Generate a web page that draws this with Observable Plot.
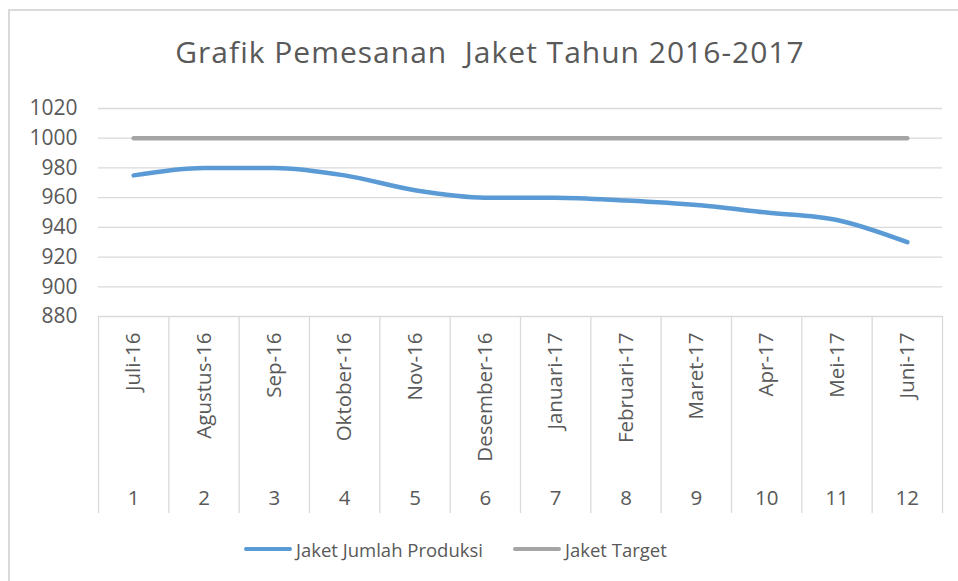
<!DOCTYPE html>
<html>
<head>
<meta charset="utf-8">
<script src="https://cdn.jsdelivr.net/npm/d3@7"></script>
<script src="https://cdn.jsdelivr.net/npm/@observablehq/plot@0.6"></script>
<style>
  html, body { margin: 0; padding: 0; background: #fff; }
  #wrap { position: relative; width: 958px; height: 581px; overflow: hidden; font-family: "Open Sans", sans-serif; color: #595959; }
  #border { position: absolute; left: 8px; top: 9px; width: 1000px; height: 1000px; border-left: 2px solid #d9d9d9; border-top: 2px solid #d9d9d9; }
  #title { position: absolute; left: 0; width: 980px; top: 31px; text-align: center; font-size: 30px; letter-spacing: 1px; line-height: 42px; color: #595959; }
  #chart { position: absolute; left: 0; top: 90px; }
  #legend { position: absolute; top: 535px; left: 0; width: 958px; height: 28px; font-size: 18.5px; }
  .item { position: absolute; top: 0; display: flex; align-items: center; height: 28px; }
  .sw { display: inline-block; width: 48px; height: 4px; border-radius: 2px; margin-right: 4px; }
</style>
</head>
<body>
<div id="wrap">
  <div id="border"></div>
  <div id="title">Grafik Pemesanan&nbsp; Jaket Tahun 2016-2017</div>
  <div id="chart"></div>
  <div id="legend"></div>
</div>
<script>
const categories = ["Juli-16","Agustus-16","Sep-16","Oktober-16","Nov-16","Desember-16","Januari-17","Februari-17","Maret-17","Apr-17","Mei-17","Juni-17"];
const numbers = ["1","2","3","4","5","6","7","8","9","10","11","12"];
const produksi = [975, 980, 980, 975, 965, 960, 960, 958, 955, 950, 945, 930];
const target = [1000, 1000, 1000, 1000, 1000, 1000, 1000, 1000, 1000, 1000, 1000, 1000];
const yTicks = [880, 900, 920, 940, 960, 980, 1000, 1020];
const seriesNames = ["Jaket Jumlah Produksi", "Jaket Target"];
const seriesColors = ["#5B9BD5", "#A5A5A5"];

const idx = numbers.map((d, i) => i + 1);
const bounds = d3.range(0, categories.length + 1).map(i => i + 0.5);

const rows = [];
categories.forEach((c, i) => {
  rows.push({i: i + 1, v: produksi[i], s: seriesNames[0]});
  rows.push({i: i + 1, v: target[i], s: seriesNames[1]});
});

const chart = Plot.plot({
  width: 958,
  height: 440,
  marginLeft: 98,
  marginRight: 16,
  marginTop: 18,
  marginBottom: 214,
  style: {fontFamily: "Open Sans, sans-serif", color: "#595959", background: "transparent"},
  x: {domain: [0.5, categories.length + 0.5], axis: null},
  y: {domain: [880, 1020], axis: null},
  marks: [
    Plot.ruleY(yTicks, {stroke: "#d9d9d9", strokeWidth: 1.3}),
    Plot.ruleX(bounds, {stroke: "#d9d9d9", strokeWidth: 1.3, insetTop: 208, insetBottom: -197}),
    Plot.axisY({ticks: yTicks, tickFormat: d => String(d), tickSize: 0, tickPadding: 21, fontSize: 21, fill: "#595959", label: null}),
    Plot.line(rows.filter(d => d.s === seriesNames[1]), {x: "i", y: "v", stroke: seriesColors[1], strokeWidth: 4.5, strokeLinecap: "round"}),
    Plot.line(rows.filter(d => d.s === seriesNames[0]), {x: "i", y: "v", stroke: seriesColors[0], strokeWidth: 4.5, strokeLinecap: "round", curve: "monotone-x"}),
    Plot.text(categories, {x: (d, i) => i + 1, text: d => d, frameAnchor: "bottom", rotate: -90, textAnchor: "end", lineAnchor: "middle", dy: 16, fontSize: 20.5, fill: "#595959"}),
    Plot.text(numbers, {x: (d, i) => idx[i], text: d => d, frameAnchor: "bottom", lineAnchor: "middle", dy: 182, fontSize: 20.5, fill: "#595959"})
  ]
});
document.getElementById("chart").appendChild(chart);

const legend = document.getElementById("legend");
const lefts = [244, 513];
seriesNames.forEach((n, k) => {
  const it = document.createElement("div");
  it.className = "item";
  it.style.left = lefts[k] + "px";
  const sw = document.createElement("span");
  sw.className = "sw";
  sw.style.background = seriesColors[k];
  it.appendChild(sw);
  it.appendChild(document.createTextNode(n));
  legend.appendChild(it);
});
</script>
</body>
</html>
